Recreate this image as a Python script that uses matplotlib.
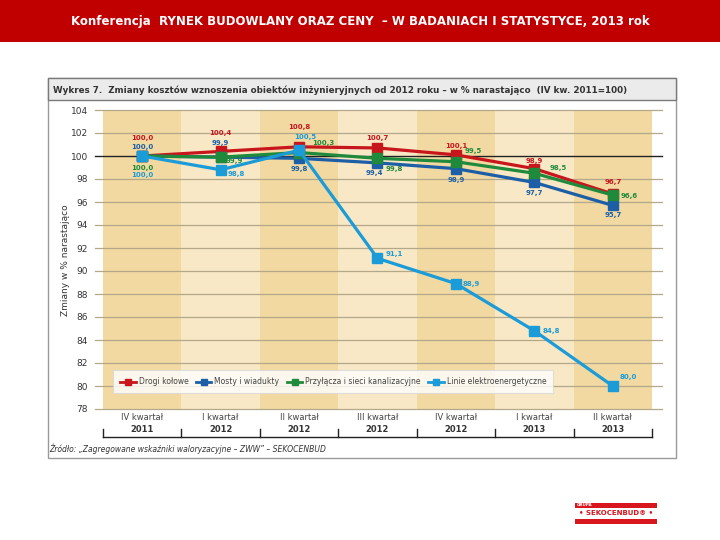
import numpy as np
import matplotlib.pyplot as plt
from matplotlib.patches import Rectangle
from matplotlib.lines import Line2D
import matplotlib.transforms as mtransforms

# data
quarters = ['IV kwartał', 'I kwartał', 'II kwartał', 'III kwartał', 'IV kwartał', 'I kwartał', 'II kwartał']
years = ['2011', '2012', '2012', '2012', '2012', '2013', '2013']
drogi = [100.0, 100.4, 100.8, 100.7, 100.1, 98.9, 96.7]
mosty = [100.0, 99.9, 99.8, 99.4, 98.9, 97.7, 95.7]
przylacza = [100.0, 99.9, 100.3, 99.8, 99.5, 98.5, 96.6]
linie = [100.0, 98.8, 100.5, 91.1, 88.9, 84.8, 80.0]
names = ['Drogi kołowe', 'Mosty i wiadukty', 'Przyłącza i sieci kanalizacyjne', 'Linie elektroenergetyczne']
yticks = list(range(78, 105, 2))

colors = ['#c8161d', '#1c5fa6', '#1f8a3b', '#1b9bd7']

# label offsets in pixels (dx, dy) and alignment for each series
off_drogi = [(0, 18), (0, 18), (0, 20), (0, 10), (0, 9), (0, 8), (0, 12)]
off_mosty = [(0, 9), (0, 14), (0, -11), (-3, -10), (0, -11), (0, -11), (0, -10)]
off_przyl = [(0, -12), (5, -4), (13, 10), (8, -11), (9, 11), (15, 5), (8, -1)]
off_linie = [(0, -19), (7, -4), (6, 13), (8, 4), (7, 0), (8, 0), (7, 9)]
ha_przyl = ['center', 'left', 'left', 'left', 'left', 'left', 'left']
ha_linie = ['center', 'left', 'center', 'left', 'left', 'left', 'left']

W, H = 720, 540
fig = plt.figure(figsize=(7.2, 5.4), dpi=100)
fig.patch.set_facecolor('white')

def fx(px):
    return px / W

def fy(py):
    return 1 - py / H

# red header band
fig.patches.append(Rectangle((0, fy(42)), 1, 42 / H, transform=fig.transFigure,
                             facecolor='#c00000', edgecolor='none', zorder=-2))
fig.text(0.5, fy(21), 'Konferencja  RYNEK BUDOWLANY ORAZ CENY  – W BADANIACH I STATYSTYCE, 2013 rok',
         color='white', fontsize=8.5, fontweight='bold', ha='center', va='center',
         family=['Liberation Sans Narrow', 'DejaVu Sans Condensed', 'DejaVu Sans'])

# panel frame + title band
fig.patches.append(Rectangle((fx(48), fy(458)), fx(628), 380 / H, transform=fig.transFigure,
                             facecolor='white', edgecolor='#9a9a9a', lw=1, zorder=-2))
fig.patches.append(Rectangle((fx(48), fy(100)), fx(628), 22 / H, transform=fig.transFigure,
                             facecolor='#ebebeb', edgecolor='#7a7a7a', lw=1, zorder=-1))
fig.text(fx(53), fy(90), 'Wykres 7.  Zmiany kosztów wznoszenia obiektów inżynieryjnych od 2012 roku – w % narastająco  (IV kw. 2011=100)',
         fontsize=6.3, fontweight='bold', color='#333333', ha='left', va='center')

ax = fig.add_axes([fx(103), fy(409), fx(549), 299 / H])
ax.patch.set_visible(False)
ax.set_xlim(-0.5, 6.5)
ax.set_ylim(78, 104)
x = np.arange(len(quarters))

# alternating column shading
for i in x:
    ax.axvspan(i - 0.5, i + 0.5, color='#f2d9a2' if i % 2 == 0 else '#f8e8c6', lw=0, zorder=0)

# horizontal grid lines running past the plot area
for v in yticks:
    c, lw = ('#222222', 1.0) if v == 100 else ('#b3a888', 0.9)
    ax.axhline(v, xmin=-0.015, xmax=1.018, color=c, lw=lw, clip_on=False, zorder=1)

series = [drogi, mosty, przylacza, linie]
offsets = [off_drogi, off_mosty, off_przyl, off_linie]
aligns = [['center'] * 7, ['center'] * 7, ha_przyl, ha_linie]
order = [3, 1, 2, 0]
for k in order:
    ax.plot(x, series[k], color=colors[k], lw=2.3, marker='s', ms=6.5, zorder=3 + k)
for k in range(4):
    for i, v in enumerate(series[k]):
        ax.annotate(f'{v:.1f}'.replace('.', ','), (x[i], v), xytext=offsets[k][i],
                    textcoords='offset pixels', ha=aligns[k][i], va='center',
                    fontsize=5, fontweight='bold', color=colors[k], zorder=10)

for s in ax.spines.values():
    s.set_visible(False)
ax.set_yticks(yticks)
ax.tick_params(axis='y', length=0, pad=11, labelsize=6.5, labelcolor='#333333')
ax.set_xticks([])

# category labels and bottom axis with boundary ticks
trans = mtransforms.blended_transform_factory(ax.transData, ax.transAxes)
for i in x:
    ax.text(i, -0.03, quarters[i], transform=trans, ha='center', va='center',
            fontsize=6, color='#444444')
    ax.text(i, -0.067, years[i], transform=trans, ha='center', va='center',
            fontsize=6, fontweight='bold', color='#333333')
ax.plot([0, 1], [-0.092, -0.092], transform=ax.transAxes, color='#222222', lw=1, clip_on=False)
for b in np.arange(-0.5, 7, 1):
    ax.plot([b, b], [-0.092, -0.068], transform=trans, color='#222222', lw=1, clip_on=False)

fig.text(fx(65), fy(260), 'Zmiany w % narastająco', rotation=90, ha='center', va='center',
         fontsize=6.5, color='#333333')

handles = [Line2D([], [], color=colors[k], lw=2, marker='s', ms=4) for k in range(4)]
leg = ax.legend(handles, names, ncol=4, loc='lower left', bbox_to_anchor=(0.012, 0.04),
                prop={'size': 5.5, 'family': ['Liberation Sans Narrow', 'DejaVu Sans']},
                frameon=True, fancybox=False, handlelength=2.0,
                columnspacing=1.0, handletextpad=0.4, borderpad=0.9)
leg.get_frame().set_edgecolor('#d8d8d8')
leg.get_frame().set_linewidth(0.8)
for t in leg.get_texts():
    t.set_color('#444444')

fig.text(fx(49), fy(449), 'Źródło: „Zagregowane wskaźniki waloryzacyjne – ZWW” – SEKOCENBUD',
         fontsize=5.5, style='italic', color='#333333', ha='left', va='center')

# logo bottom right
fig.patches.append(Rectangle((fx(575), fy(508)), fx(82), 5 / H, transform=fig.transFigure,
                             facecolor='#d7161e', edgecolor='none'))
fig.patches.append(Rectangle((fx(575), fy(524)), fx(82), 5 / H, transform=fig.transFigure,
                             facecolor='#d7161e', edgecolor='none'))
fig.text(fx(577), fy(505.5), 'GRUPA', fontsize=3, color='white', fontweight='bold', va='center')
fig.text(fx(616), fy(513), '• SEKOCENBUD® •', fontsize=5, color='#d7161e', fontweight='bold',
         ha='center', va='center')

fig.savefig('out.png', dpi=100)
